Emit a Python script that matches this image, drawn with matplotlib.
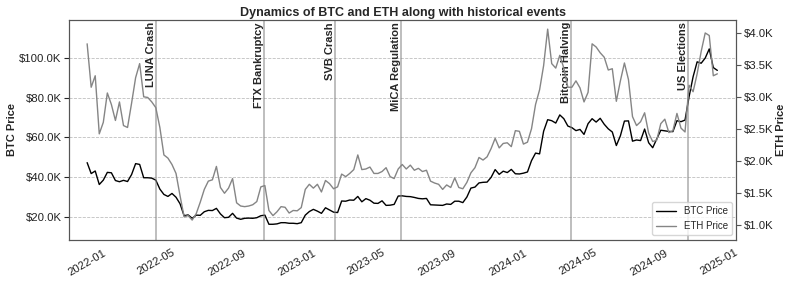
import matplotlib
matplotlib.use("Agg")
import matplotlib.pyplot as plt
import matplotlib.dates as mdates
import matplotlib.ticker as mticker
import pandas as pd
import seaborn as sns

# weekly closes (Sundays), in USD
btc_2022 = [47300, 41800, 43100, 36300, 38500, 42400, 42200, 38300, 37700, 38400,
            37800, 41300, 46800, 46400, 39700, 39700, 39500, 38500, 34000, 31300,
            30300, 31800, 29900, 26600, 20600, 21000, 19300, 20900, 20800, 22600,
            23300, 23200, 24300, 21500, 19600, 19800, 21800, 19400, 18800, 19300,
            19400, 19300, 19600, 20600, 20900, 16300, 16300, 16500, 17100, 17100,
            16800, 16800]
btc_2023 = [16600, 17100, 20900, 22700, 23800, 22900, 21800, 24600, 23500, 22400,
            22200, 28000, 27900, 28500, 28400, 30300, 27600, 29200, 28400, 26900,
            26800, 28100, 25800, 25900, 26300, 30500, 30600, 30300, 30200, 29800,
            29300, 29100, 29300, 26100, 26000, 25900, 25800, 26500, 26300, 27900,
            27900, 27200, 30000, 34500, 35000, 37100, 37400, 37500, 39900, 43800,
            41400, 43000, 42300]
btc_2024 = [43900, 41700, 41600, 42000, 42600, 48300, 52100, 51700, 63100, 68900,
            68400, 67200, 71300, 69400, 65700, 64900, 63400, 64000, 61500, 66900,
            69400, 67700, 69600, 66600, 64300, 62700, 55900, 60800, 68200, 68300,
            58100, 58700, 58400, 64200, 57300, 54800, 59200, 63600, 63300, 63000,
            62900, 68400, 67900, 68700, 80400, 90500, 98000, 97300, 99900, 104500,
            95100, 93700]

eth_2022 = [3830, 3150, 3330, 2420, 2600, 3060, 2880, 2630, 2920, 2550,
            2520, 2900, 3300, 3520, 3000, 2990, 2920, 2830, 2520, 2090,
            2040, 1940, 1800, 1450, 1120, 1140, 1070, 1170, 1350, 1550,
            1680, 1700, 1910, 1580, 1490, 1570, 1720, 1340, 1290, 1280,
            1290, 1310, 1360, 1590, 1610, 1220, 1140, 1200, 1280, 1270,
            1180, 1220]
eth_2023 = [1215, 1265, 1550, 1630, 1570, 1630, 1510, 1690, 1640, 1560,
            1590, 1790, 1750, 1800, 1860, 2090, 1860, 1870, 1900, 1800,
            1800, 1830, 1890, 1750, 1720, 1870, 1940, 1870, 1930, 1850,
            1880, 1830, 1850, 1680, 1650, 1630, 1550, 1620, 1580, 1730,
            1580, 1560, 1660, 1810, 1890, 2050, 2010, 2060, 2190, 2350,
            2200, 2270, 2280]
eth_2024 = [2220, 2470, 2460, 2260, 2290, 2500, 2880, 3110, 3490, 4060,
            3520, 3450, 3650, 3450, 3150, 3150, 3250, 3140, 2920, 3070,
            3830, 3780, 3690, 3620, 3420, 3440, 2930, 3250, 3530, 3270,
            2690, 2550, 2610, 2750, 2430, 2300, 2320, 2580, 2650, 2440,
            2470, 2740, 2510, 2450, 3180, 3080, 3360, 3710, 4000, 3960,
            3330, 3360]

event_names = ["LUNA Crash", "FTX Bankruptcy", "SVB Crash", "MiCA Regulation",
               "Bitcoin Halving", "US Elections"]
event_dates = ["2022-05-02", "2022-11-05", "2023-03-08", "2023-06-29",
               "2024-04-20", "2024-11-08"]

btc = btc_2022 + btc_2023 + btc_2024
eth = eth_2022 + eth_2023 + eth_2024
dates = pd.date_range("2022-01-02", periods=len(btc), freq="W-SUN")

sns.set_style("white")
plt.rcParams["font.family"] = ["Liberation Sans", "DejaVu Sans"]

fig = plt.figure(figsize=(7.93, 2.84), dpi=100)
ax1 = fig.add_axes([0.0866, 0.155, 0.842, 0.775])
ax2 = ax1.twinx()

l1, = ax1.plot(dates, btc, color="black", lw=1.0, label="BTC Price")
l2, = ax2.plot(dates, eth, color="#858585", lw=1.0, label="ETH Price")

for name, d in zip(event_names, event_dates):
  d = pd.Timestamp(d)
  ax1.axvline(d, color="gray", alpha=0.55, lw=1.3)
  ax1.text(d, 0.99, name, transform=ax1.get_xaxis_transform(), rotation=90,
           ha="right", va="top", fontsize=8, fontweight="bold")

ax1.set_xlim(pd.Timestamp("2021-12-01"), pd.Timestamp("2025-01-31"))
ax1.set_ylim(8400, 119100)
ax2.set_ylim(758, 4205)

ax1.set_yticks([20000, 40000, 60000, 80000, 100000])
ax2.set_yticks([1000, 1500, 2000, 2500, 3000, 3500, 4000])
fmt = mticker.FuncFormatter(lambda v, p: f"${v / 1000:.1f}K")
ax1.yaxis.set_major_formatter(fmt)
ax2.yaxis.set_major_formatter(fmt)
ax1.xaxis.set_major_locator(mdates.MonthLocator(bymonth=[1, 5, 9]))
ax1.xaxis.set_major_formatter(mdates.DateFormatter("%Y-%m"))

for ax in (ax1, ax2):
  for sp in ax.spines.values():
    sp.set_color("#555555")

ax1.grid(True, axis="y", linestyle="--", linewidth=0.6, color="gray", alpha=0.5)
ax1.tick_params(axis="x", labelsize=8.2, rotation=30, pad=2, labelcolor="#222222")
ax1.tick_params(axis="y", labelsize=8.2, pad=1.5, labelcolor="#222222")
ax2.tick_params(axis="y", labelsize=8.2, length=3.5, width=0.8, pad=2,
                color="#555555", labelcolor="#222222")

ax1.set_ylabel("BTC Price", fontsize=8, fontweight="bold", labelpad=2)
ax2.set_ylabel("ETH Price", fontsize=8, fontweight="bold", labelpad=2)
ax1.set_title("Dynamics of BTC and ETH along with historical events",
              fontsize=9, fontweight="bold", pad=3)

ax2.legend([l1, l2], ["BTC Price", "ETH Price"], loc="lower right", fontsize=7,
           frameon=True)

fig.savefig("out.png", dpi=100)
